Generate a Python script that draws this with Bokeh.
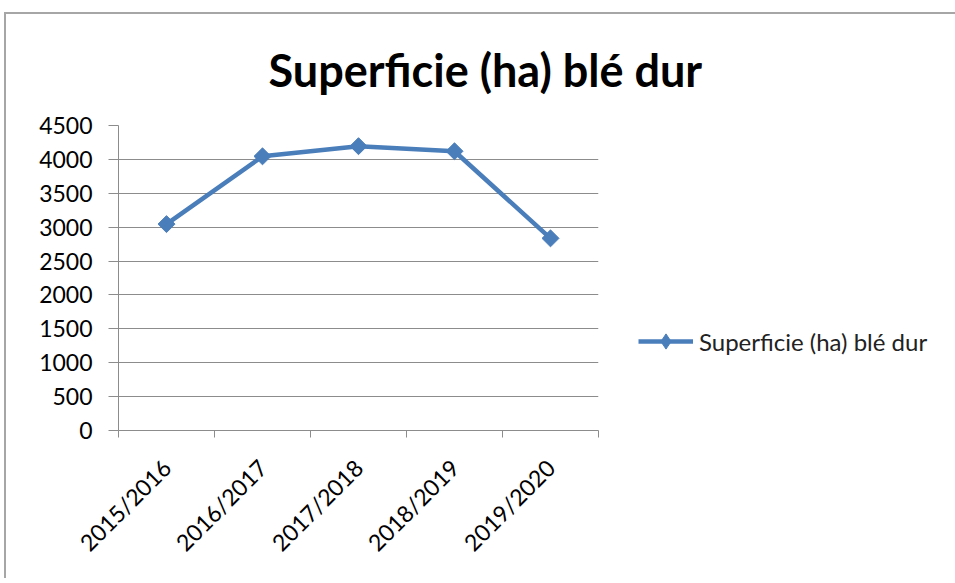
from bokeh.plotting import figure
from bokeh.models import Range1d, FixedTicker, Legend, LegendItem
from bokeh.embed import file_html
from bokeh.resources import INLINE
from math import pi

categories = ["2015/2016", "2016/2017", "2017/2018", "2018/2019", "2019/2020"]
superficie = [3045, 4045, 4195, 4120, 2835]
y_ticks = [0, 500, 1000, 1500, 2000, 2500, 3000, 3500, 4000, 4500]
series_name = "Superficie (ha) blé dur"

xs = [i + 0.5 for i in range(len(categories))]
FONT = "Lato"
BLUE = "#4a7ebb"
GRID = "#8c8c8c"
FRAME_GREY = "#a6a6a6"

p = figure(width=950, height=578, output_backend="svg", toolbar_location=None,
           x_range=Range1d(0, len(categories)), y_range=Range1d(0, 4500),
           min_border_left=118, min_border_right=352, min_border_top=125, min_border_bottom=148)
p.frame_width = 480
p.frame_height = 305
p.outline_line_color = None
p.border_fill_color = None
p.background_fill_color = "white"
p.styles = {
    "background": (f"linear-gradient({FRAME_GREY},{FRAME_GREY}) 4px 12px / 100% 2px no-repeat, "
                   f"linear-gradient({FRAME_GREY},{FRAME_GREY}) 4px 12px / 2px 100% no-repeat, white"),
}

p.title.text = series_name
p.title.text_font = FONT
p.title.text_font_size = "45px"
p.title.text_font_style = "bold"
p.title.text_color = "#000000"
p.title.align = "left"
p.title.offset = 150
p.title.standoff = 58

line = p.line(xs, superficie, line_color=BLUE, line_width=4.5)
pts = p.scatter(xs, superficie, marker="square", angle=pi / 4, size=12,
                fill_color=BLUE, line_color=BLUE)
# legend-only marker proxy (placed at NaN, so nothing is drawn in the plot area)
legend_marker = p.scatter(x=[float("nan")], y=[float("nan")], marker="diamond",
                          fill_color=BLUE, line_color=BLUE)

# x axis
xa = p.xaxis[0]
xa.ticker = FixedTicker(ticks=xs, minor_ticks=list(range(len(categories) + 1)))
xa.major_label_overrides = {x: c for x, c in zip(xs, categories)}
xa.major_label_orientation = pi / 4
xa.major_tick_out = 0
xa.major_tick_in = 0
xa.minor_tick_out = 7
xa.minor_tick_in = 0
xa.minor_tick_line_color = GRID
xa.axis_line_color = GRID
xa.major_label_text_font = FONT
xa.major_label_text_font_size = "23px"
xa.major_label_text_color = "#000000"
xa.major_label_standoff = 26
p.xgrid.grid_line_color = None

# y axis
ya = p.yaxis[0]
ya.ticker = FixedTicker(ticks=y_ticks)
ya.major_tick_out = 10
ya.major_tick_in = 0
ya.minor_tick_line_color = None
ya.major_tick_line_color = GRID
ya.axis_line_color = GRID
ya.major_label_text_font = FONT
ya.major_label_text_font_size = "23px"
ya.major_label_text_color = "#000000"
ya.major_label_standoff = 16
p.ygrid.grid_line_color = GRID
p.ygrid.ticker = FixedTicker(ticks=y_ticks)

legend = Legend(items=[LegendItem(label=series_name, renderers=[line, legend_marker])],
                location=(40, 70), glyph_width=55, glyph_height=38, label_standoff=6,
                padding=0, margin=0, border_line_color=None, background_fill_alpha=0,
                label_text_font=FONT, label_text_font_size="24px", label_text_color="#222222")
p.add_layout(legend, "right")

open("out.html", "w").write(file_html(p, INLINE))
